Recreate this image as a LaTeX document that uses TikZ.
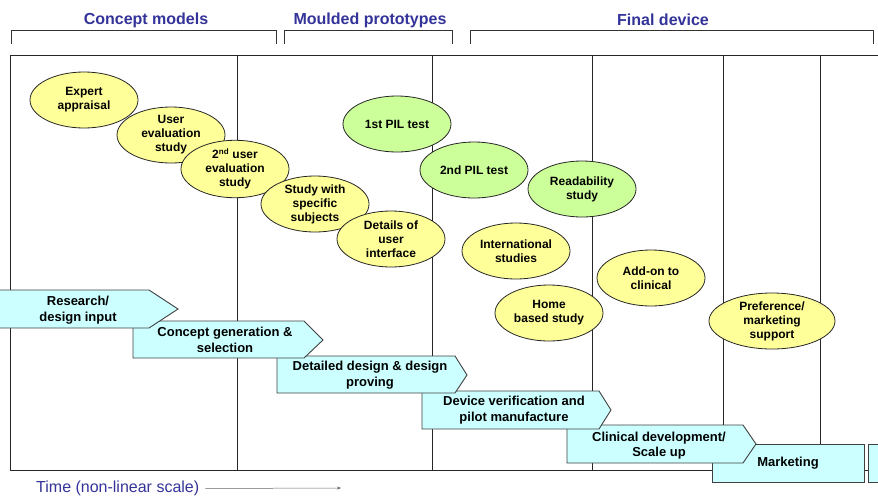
\documentclass[tikz,border=0pt]{standalone}
\usepackage{fontspec}
\setmainfont{Liberation Sans}
\usetikzlibrary{shapes.geometric,arrows.meta}

\definecolor{hdrblue}{HTML}{333399}
\definecolor{studyyellow}{HTML}{FFFF99}
\definecolor{studygreen}{HTML}{CCFF99}
\definecolor{phasecyan}{HTML}{CCFFFF}

\tikzset{
  frameline/.style={line width=1pt, draw=black!85},
  bracketline/.style={line width=0.9pt, draw=black!80},
  hdrtext/.style={font=\fontsize{16}{19}\selectfont\bfseries, text=hdrblue, inner sep=0pt},
  studybase/.style={ellipse, draw=black!85, line width=0.8pt, minimum width=108pt,
    minimum height=56pt, inner sep=0pt, align=center,
    font=\fontsize{12}{14}\selectfont\bfseries},
  yellowstudy/.style={studybase, fill=studyyellow},
  greenstudy/.style={studybase, fill=studygreen},
  phasebox/.style={draw=black!75, fill=phasecyan, line width=0.9pt},
  phasetext/.style={align=center, inner sep=0pt, font=\fontsize{13}{15.5}\selectfont\bfseries},
}

\begin{document}
\begin{tikzpicture}[x=1pt,y=-1pt]
\useasboundingbox (0,0) rectangle (878,496);

% stage headers and their brackets
\node[hdrtext] (hconcept) at (146,20) {Concept models};
\node[hdrtext] (hmoulded) at (370,20) {Moulded prototypes};
\node[hdrtext] (hfinal)   at (663,20) {Final device};
\draw[bracketline] (11,44) -- (11,30) -- (276,30) -- (276,44);
\draw[bracketline] (284,44) -- (284,30) -- (452,30) -- (452,44);
\draw[bracketline] (470,44) -- (470,30) -- (873,30) -- (873,44);

% grid frame
\draw[frameline] (10,470) -- (10,55) -- (878,55);
\draw[frameline] (10,470) -- (878,470);
\draw[frameline] (237,55) -- (237,470);
\draw[frameline] (432,55) -- (432,470);
\draw[frameline] (592,55) -- (592,470);
\draw[frameline] (723,55) -- (723,444);
\draw[frameline] (820,55) -- (820,444);

% user studies
\node[yellowstudy] (expert)  at (84,100)  {Expert\\appraisal};
\node[yellowstudy] (usereval) at (171,135) {User\\evaluation\\study};
\node[yellowstudy] (usereval2) at (235,169) {2\textsuperscript{nd} user\\evaluation\\study};
\node[yellowstudy] (specific) at (315,204) {Study with\\specific\\subjects};
\node[yellowstudy] (details) at (391,239) {Details of\\user\\interface};
\node[greenstudy]  (pil1) at (397,124) {1st PIL test};
\node[greenstudy]  (pil2) at (474,170) {2nd PIL test};
\node[greenstudy]  (readab) at (582,189) {Readability\\study};
\node[yellowstudy] (intl) at (516,251) {International\\studies};
\node[yellowstudy] (home) at (549,313) {Home\\based study};
\node[yellowstudy] (addon) at (651,278) {Add-on to\\clinical};
\node[yellowstudy, minimum width=126pt] (pref) at (772,321) {Preference/\\marketing\\support};

% development phases, later ones drawn underneath earlier ones
\draw[phasebox] (868,444) rectangle (882,482);
\draw[phasebox] (712,444) rectangle (864,482);
\node[phasetext] (marketing) at (788,463) {Marketing};

\draw[phasebox] (567,425) -- (743,425) -- (756,444) -- (743,463) -- (567,463) -- cycle;
\node[phasetext] (clinical) at (659,445.5) {Clinical development/\\Scale up};

\draw[phasebox] (422,391) -- (599,391) -- (611,410) -- (599,429) -- (422,429) -- cycle;
\node[phasetext] (verif) at (514,410) {Device verification and\\pilot manufacture};

\draw[phasebox] (277,356) -- (455,356) -- (467,375) -- (455,393) -- (277,393) -- cycle;
\node[phasetext] (detailed) at (370,375) {Detailed design \& design\\proving};

\draw[phasebox] (133,321) -- (304,321) -- (323,340) -- (304,358) -- (133,358) -- cycle;
\node[phasetext] (concept) at (225,340) {Concept generation \&\\selection};

\draw[phasebox] (-3,290) -- (149,290) -- (178,309) -- (149,328) -- (-3,328) -- cycle;
\node[phasetext] (research) at (78,310) {Research/\\design input};

% time axis
\node[anchor=west, inner sep=0pt, text=hdrblue, font=\fontsize{16}{19}\selectfont] (time) at (36,488.5) {Time (non-linear scale)};
\coordinate (timeend) at (341,488);
\draw[gray!80!black, line width=0.5pt, -{Stealth[length=4pt,width=3pt]}, shorten <=6pt] (time.east) -- (timeend);
\end{tikzpicture}
\end{document}
